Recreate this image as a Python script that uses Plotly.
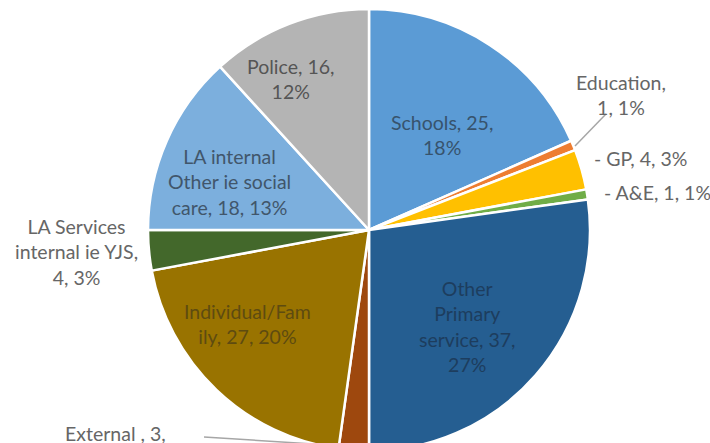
import plotly.graph_objects as go

# Referral sources (count of referrals)
categories = [
    "Schools", "Education", "GP", "A&E", "Other Primary service",
    "External", "Individual/Family", "LA Services internal ie YJS",
    "LA internal Other ie social care", "Police",
]
counts = [25, 1, 4, 1, 37, 3, 27, 4, 18, 16]
colors = ["#5B9BD5", "#ED7D31", "#FFC000", "#70AD47", "#255E91",
          "#9E480E", "#997300", "#43682B", "#7CAFDD", "#B4B4B4"]

# Label text as wrapped on the chart
label_lines = {
    "Schools": "Schools, 25,<br>18%",
    "Education": "Education,<br>1, 1%",
    "GP": "- GP, 4, 3%",
    "A&E": "- A&E, 1, 1%",
    "Other Primary service": "Other<br>Primary<br>service, 37,<br>27%",
    "External": "External , 3,<br>2%",
    "Individual/Family": "Individual/Fam<br>ily, 27, 20%",
    "LA Services internal ie YJS": "LA Services<br>internal ie YJS,<br>4, 3%",
    "LA internal Other ie social care": "LA internal<br>Other ie social<br>care, 18, 13%",
    "Police": "Police, 16,<br>12%",
}

W, H = 710, 460
CX, CY, R = 369, 230, 221

# label placement in pixels: (x, y, xanchor, yanchor, colour)
outside = "#666666"
label_pos = {
    "Schools": (442, 135, "center", "middle", "#37536D"),
    "Education": (621, 95, "center", "middle", outside),
    "GP": (592, 158, "left", "middle", outside),
    "A&E": (602, 192, "left", "middle", outside),
    "Other Primary service": (467, 326, "center", "middle", "#1D3D5E"),
    "External": (115, 420, "center", "top", outside),
    "Individual/Family": (247, 324, "center", "middle", "#5E4B10"),
    "LA internal Other ie social care": (229, 182, "center", "middle", "#41566B"),
    "LA Services internal ie YJS": (76, 252, "center", "middle", outside),
    "Police": (290, 79, "center", "middle", "#555555"),
}


def px(x, y):
    return x / W, 1 - y / H


fig = go.Figure(
    go.Pie(
        labels=categories,
        values=counts,
        sort=False,
        direction="clockwise",
        rotation=0,
        marker=dict(colors=colors, line=dict(color="white", width=2.5)),
        textinfo="none",
        hoverinfo="label+value+percent",
        domain=dict(x=[(CX - R) / W, (CX + R) / W],
                    y=[1 - (CY + R) / H, 1 - (CY - R) / H]),
        showlegend=False,
    )
)

annotations = []
for cat in categories:
    x, y, xa, ya, col = label_pos[cat]
    ax_, ay_ = px(x, y)
    annotations.append(dict(
        text=label_lines[cat], x=ax_, y=ay_, xref="paper", yref="paper",
        xanchor=xa, yanchor=ya, showarrow=False, align="center",
        font=dict(family="Lato, Carlito, sans-serif", size=19.5, color=col),
    ))

# leader lines for the small outside slices
leaders = [((575, 146), (606, 114)), ((204, 437), (345, 446))]
shapes = []
for (x0, y0), (x1, y1) in leaders:
    a0, b0 = px(x0, y0)
    a1, b1 = px(x1, y1)
    shapes.append(dict(type="line", xref="paper", yref="paper",
                       x0=a0, y0=b0, x1=a1, y1=b1,
                       line=dict(color="#A6A6A6", width=1.5)))

fig.update_layout(
    width=W, height=H,
    margin=dict(l=0, r=0, t=0, b=0),
    paper_bgcolor="white",
    plot_bgcolor="white",
    annotations=annotations,
    shapes=shapes,
)

fig.write_html(
    "out.html",
    post_script="document.documentElement.style.overflow='hidden';"
                "document.body.style.overflow='hidden';document.body.style.margin='0';",
)
